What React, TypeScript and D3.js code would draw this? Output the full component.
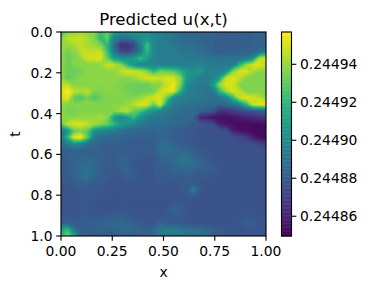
import React from "react";
import * as d3 from "d3";

// Field values, as percent of the colour bar's span. Rows go t=0 → t=1, columns x=0 → x=1.
const r00 = [69,82,84,87,84,82,66,77,58,50,52,55,50,46,42,42,40,38,36,33,33,32,32,32,30,30,30,30,30,30,30,30];
const r01 = [80,90,91,91,87,81,66,77,42,36,35,40,48,54,46,42,40,38,36,33,33,32,31,30,29,28,28,29,29,30,30,30];
const r02 = [84,84,87,90,87,84,81,66,36,14,14,20,40,72,46,42,42,40,38,37,36,34,32,30,28,28,28,29,29,30,31,32];
const r03 = [84,79,82,90,90,91,91,70,40,24,20,28,40,66,46,42,42,42,40,39,38,36,34,31,30,30,30,31,31,32,36,45];
const r04 = [84,77,81,84,93,93,95,77,56,50,50,55,68,58,46,42,42,42,42,41,40,40,39,38,38,38,38,38,40,50,87,96];
const r05 = [84,77,81,82,82,82,84,93,90,84,66,52,46,45,45,44,44,43,43,43,43,46,44,42,40,40,42,66,84,94,96,90];
const r06 = [84,77,77,79,82,82,82,82,84,90,95,93,90,82,66,79,77,75,66,54,50,55,44,44,44,50,82,94,95,87,82,82];
const r07 = [84,75,79,82,82,82,82,82,82,82,82,84,90,93,95,91,95,94,84,55,48,42,42,45,58,91,96,90,82,80,80,80];
const r08 = [90,90,81,82,82,82,82,82,82,81,79,77,77,77,81,82,91,98,81,50,42,40,40,55,84,96,93,82,80,80,80,80];
const r09 = [94,100,90,87,90,81,81,82,82,81,79,77,77,77,79,91,95,96,66,44,42,40,38,40,66,84,94,90,80,80,80,80];
const r10 = [91,96,75,72,79,72,77,81,81,81,81,81,84,90,93,94,77,48,44,42,40,39,38,38,40,44,66,91,95,94,90,84];
const r11 = [84,82,81,82,82,82,81,81,82,82,84,90,95,94,77,95,55,42,40,38,38,36,35,34,33,35,38,45,66,91,96,96];
const r12 = [82,79,79,81,81,81,81,81,82,87,90,77,72,58,52,45,42,38,36,34,34,32,30,26,14,14,18,22,24,26,28,32];
const r13 = [84,82,82,84,84,84,87,82,56,44,54,66,50,44,40,38,37,36,34,34,33,12,8,5,4,4,5,7,10,12,14,16];
const r14 = [75,91,94,95,90,87,82,77,66,56,50,46,42,38,36,36,35,34,33,32,28,27,26,25,10,6,4,3,3,3,3,4];
const r15 = [40,52,75,81,75,52,46,44,42,38,36,34,33,33,32,32,32,30,29,28,27,26,25,24,24,25,10,5,3,2,2,2];
const r16 = [38,66,96,99,75,42,36,34,33,32,31,31,30,30,30,33,32,30,28,28,27,26,25,25,25,25,24,22,18,10,4,2];
const r17 = [36,42,50,46,38,34,32,30,30,30,29,28,28,28,28,36,35,33,30,29,27,26,25,25,25,25,25,24,24,24,20,18];
const r18 = [30,30,30,31,31,30,30,29,28,29,28,28,28,28,28,36,38,36,33,32,30,28,27,26,25,25,25,25,25,25,25,25];
const r19 = [29,30,31,32,33,32,30,29,28,32,31,28,27,26,28,33,33,33,36,38,33,30,28,26,25,25,25,25,25,25,25,25];
const r20 = [28,30,32,34,35,33,30,29,29,32,30,28,26,26,28,30,31,33,36,38,36,33,30,28,26,25,25,25,25,25,25,25];
const r21 = [28,29,32,36,38,34,30,28,27,30,33,29,27,26,27,28,29,32,33,34,32,30,30,29,27,25,25,25,25,25,25,25];
const r22 = [27,28,31,36,38,33,29,28,27,27,30,29,27,26,27,28,28,29,29,29,28,27,27,27,26,25,25,25,25,25,25,25];
const r23 = [27,27,29,30,31,29,28,27,26,26,27,27,26,26,27,27,27,27,27,28,30,27,26,25,25,25,25,25,25,25,25,25];
const r24 = [26,26,27,28,28,27,27,26,26,26,26,26,26,26,26,26,26,26,27,30,44,30,26,25,25,25,25,25,25,25,25,25];
const r25 = [25,26,26,27,27,27,26,26,25,25,26,26,26,26,26,26,26,26,26,27,28,26,25,25,25,25,25,25,25,25,25,25];
const r26 = [26,26,26,27,27,26,25,25,25,26,26,25,25,25,25,25,25,27,28,26,25,25,25,25,25,25,25,25,25,25,25,25];
const r27 = [27,26,26,27,27,26,26,26,26,26,26,26,26,26,26,26,28,33,30,27,26,25,25,25,25,25,26,26,25,25,25,25];
const r28 = [28,27,27,28,28,27,27,28,30,30,29,27,26,26,26,26,27,28,28,27,26,25,25,25,25,25,25,26,27,27,26,25];
const r29 = [30,30,29,29,29,30,32,33,33,35,33,30,28,27,27,32,30,27,27,26,26,25,25,25,25,26,26,27,30,29,27,26];
const r30 = [55,66,40,30,29,30,31,31,32,33,34,34,32,30,33,40,42,42,40,37,36,35,33,30,28,27,26,26,27,27,26,26];
const r31 = [66,80,58,33,29,28,28,28,28,30,30,30,30,31,36,38,40,40,40,39,38,38,36,32,29,27,26,26,26,26,26,26];
const fieldRows = [r00,r01,r02,r03,r04,r05,r06,r07,r08,r09,r10,r11,r12,r13,r14,r15,r16,r17,r18,r19,r20,r21,r22,r23,r24,r25,r26,r27,r28,r29,r30,r31];

const xTicks = [0, 0.25, 0.5, 0.75, 1];
const tTicks = [0, 0.2, 0.4, 0.6, 0.8, 1];
const barTicks = [0.24486, 0.24488, 0.2449, 0.24492, 0.24494];
const barMin = 0.2448496;
const barMax = 0.244957;

const FONT = "'DejaVu Sans', sans-serif";
const plot = { left: 61, right: 266, top: 32, bottom: 236 };
const bar = { left: 281.5, right: 291.5, top: 32, bottom: 236 };
const LW = 1.11;
const TICK = 4.86;

export default function App() {
  const nx = fieldRows[0].length;
  const ny = fieldRows.length;
  const x = d3.scaleLinear().domain([0, 1]).range([plot.left, plot.right]);
  const t = d3.scaleLinear().domain([0, 1]).range([plot.top, plot.bottom]);
  const barY = d3.scaleLinear().domain([barMin, barMax]).range([bar.bottom, bar.top]);
  const color = d3.scaleSequential(d3.interpolateViridis).domain([barMin, barMax]);
  const span = barMax - barMin;
  const flat = fieldRows.flat().map((p) => barMin + (p / 100) * span);

  const levels = d3.range(0, 101).map((i) => barMin + (i / 100) * span);
  const contours = d3.contours().size([nx, ny]).thresholds(levels)(flat);
  // first and last samples sit on the frame; the half cell beyond them is clipped away
  const gridX = d3.scaleLinear().domain([0.5, nx - 0.5]).range([plot.left, plot.right]);
  const gridY = d3.scaleLinear().domain([0.5, ny - 0.5]).range([plot.top, plot.bottom]);
  const path = d3.geoPath(
    d3.geoTransform({
      point(this: any, px: number, py: number) {
        this.stream.point(gridX(px), gridY(py));
      },
    })
  );
  const barSteps = d3.range(0, 256).map((i) => barMin + (i / 256) * span);

  return (
    <svg
      width={367}
      height={290}
      viewBox="0 0 367 290"
      style={{ position: "absolute", left: 0, top: 0, display: "block" }}
      fontFamily={FONT}
      fill="#000"
    >
      <rect x={0} y={0} width={367} height={290} fill="#fff" />
      <clipPath id="plot-clip">
        <rect x={plot.left} y={plot.top} width={plot.right - plot.left} height={plot.bottom - plot.top} />
      </clipPath>
      <g clipPath="url(#plot-clip)">
        <rect x={plot.left} y={plot.top} width={plot.right - plot.left} height={plot.bottom - plot.top} fill={color(barMin)} />
        {contours.map((c, i) => (
          <path key={i} d={path(c as any) || ""} fill={color(c.value + span / 200)} />
        ))}
      </g>
      <rect x={plot.left} y={plot.top} width={plot.right - plot.left} height={plot.bottom - plot.top} fill="none" stroke="#000" strokeWidth={LW} />
      {xTicks.map((v) => (
        <g key={v}>
          <line x1={x(v)} x2={x(v)} y1={plot.bottom} y2={plot.bottom + TICK} stroke="#000" strokeWidth={LW} />
          <text x={x(v)} y={plot.bottom + 20} fontSize={13.89} textAnchor="middle">{v.toFixed(2)}</text>
        </g>
      ))}
      {tTicks.map((v) => (
        <g key={v}>
          <line x1={plot.left - TICK} x2={plot.left} y1={t(v)} y2={t(v)} stroke="#000" strokeWidth={LW} />
          <text x={plot.left - 8.5} y={t(v) + 5} fontSize={13.89} textAnchor="end">{v.toFixed(1)}</text>
        </g>
      ))}
      <text x={(plot.left + plot.right) / 2} y={25} fontSize={16.67} textAnchor="middle">Predicted u(x,t)</text>
      <text x={(plot.left + plot.right) / 2} y={277} fontSize={13.89} textAnchor="middle">x</text>
      <text transform={`translate(20,${(plot.top + plot.bottom) / 2}) rotate(-90)`} fontSize={13.89} textAnchor="middle">t</text>

      {barSteps.map((v, i) => (
        <rect
          key={i}
          x={bar.left}
          width={bar.right - bar.left}
          y={barY(v + span / 256)}
          height={barY(v) - barY(v + span / 256) + 0.5}
          fill={color(v + span / 512)}
        />
      ))}
      <rect x={bar.left} y={bar.top} width={bar.right - bar.left} height={bar.bottom - bar.top} fill="none" stroke="#000" strokeWidth={LW} />
      {barTicks.map((v) => (
        <g key={v}>
          <line x1={bar.right} x2={bar.right + TICK} y1={barY(v)} y2={barY(v)} stroke="#000" strokeWidth={LW} />
          <text x={bar.right + 8.5} y={barY(v) + 5} fontSize={13.89}>{v.toFixed(5)}</text>
        </g>
      ))}
    </svg>
  );
}
